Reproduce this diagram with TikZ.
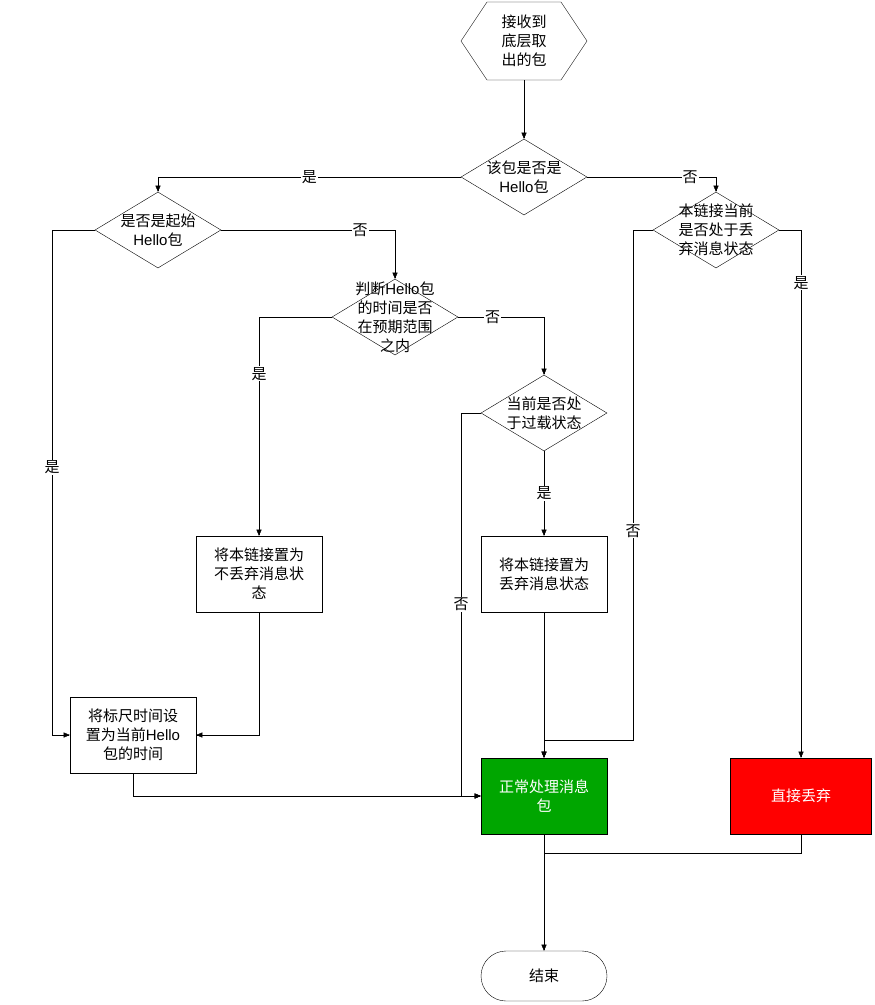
\documentclass[tikz,border=0pt]{standalone}
\usepackage{fontspec}
\setmainfont{Noto Sans CJK SC}
\newfontfamily\latin{Liberation Sans}
\usetikzlibrary{shapes,arrows,positioning}
\newcommand{\hl}{{\latin Hello}}

\begin{document}
\begin{tikzpicture}[x=1pt,y=-1pt,
  font=\fontsize{15}{19}\selectfont,
  decision/.style={diamond,draw,inner sep=0pt,minimum width=126pt,minimum height=76pt},
  action/.style={rectangle,draw,minimum width=126pt,minimum height=76pt,align=center},
  txt/.style={align=center,inner sep=0pt},
  line/.style={draw,-triangle 45},
  yn/.style={fill=white,inner sep=1pt}]
\useasboundingbox (0,0) rectangle (875,1005);

% start
\draw (461,41) -- (487,2) -- (561,2) -- (587,41) -- (561,80) -- (487,80) -- cycle;
\node[txt,minimum height=78pt,minimum width=126pt] (start) at (524,41) {接收到\\底层取\\出的包};

% decisions
\node[decision,label={[txt]center:该包是否是\\\hl 包}] (isHello) at (524,177) {};
\node[decision,label={[txt]center:是否是起始\\\hl 包}] (isFirst) at (158,230) {};
\node[decision,label={[txt]center:本链接当前\\是否处于丢\\弃消息状态}] (isDrop) at (716,230) {};
\node[decision,label={[txt]center:判断\hl 包\\的时间是否\\在预期范围\\之内}] (inRange) at (395,317) {};
\node[decision,label={[txt]center:当前是否处\\于过载状态}] (isLoad) at (544,413) {};

% actions
\node[action] (noDrop) at (259,574) {将本链接置为\\不丢弃消息状\\态};
\node[action] (setDrop) at (544,574) {将本链接置为\\丢弃消息状态};
\node[action] (setTime) at (133,735) {将标尺时间设\\置为当前\hl\\包的时间};
\node[action,fill=green!65!black,text=white] (normal) at (544,796) {正常处理消息\\包};
\node[action,fill=red,text=white,minimum width=141pt] (discard) at (801,796) {直接丢弃};
\node[rectangle,rounded corners=25pt,draw,minimum width=126pt,minimum height=50pt] (finish) at (544,976) {结束};

% connectors
\path[line] (start) -- (isHello);
\path[line] (isHello.west) -| node[yn,pos=0.25]{是} (isFirst.north);
\path[line] (isHello.east) -| node[yn,pos=0.4]{否} (isDrop.north);
\path[line] (isFirst.east) -| node[yn,pos=0.4]{否} (inRange.north);
\path[line] (isFirst.west) -- (52,230) -- node[yn,pos=0.47]{是} (52,735) -- (setTime.west);
\path[line] (inRange.west) -| node[yn,pos=0.63]{是} (noDrop.north);
\path[line] (inRange.east) -| node[yn,pos=0.2]{否} (isLoad.north);
\path[line] (isLoad.south) -- node[yn]{是} (setDrop.north);
\path[line] (isLoad.west) -- (461,413) -- node[yn,pos=0.5]{否} (461,796) -- (normal.west);
\path[line] (noDrop.south) |- (setTime.east);
\path[line] (setTime.south) |- (normal.west);
\path[line] (setDrop.south) -- (normal.north);
\path[line] (isDrop.west) -- (633,230) -- node[yn,pos=0.59]{否} (633,740) -| (normal.north);
\path[line] (isDrop.east) -| node[yn,pos=0.55]{是} (discard.north);
\path[line] (normal.south) -- (finish.north);
\draw (discard.south) |- (544,853);
\end{tikzpicture}
\end{document}
